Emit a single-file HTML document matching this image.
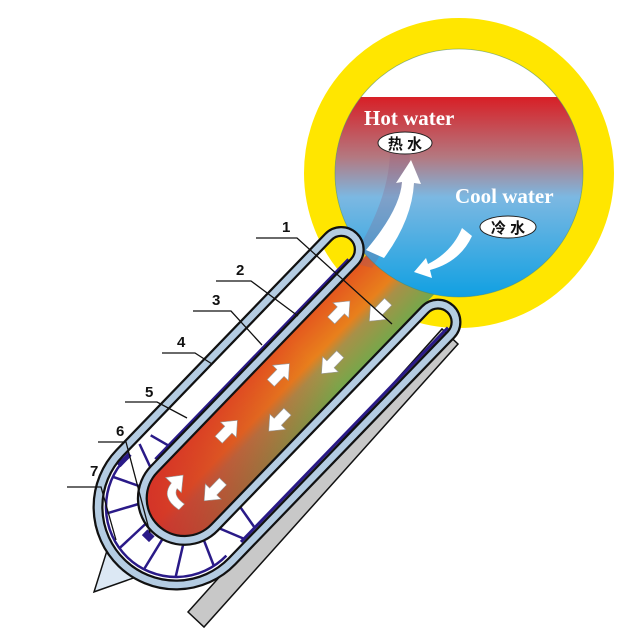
<!DOCTYPE html>
<html><head><meta charset="utf-8"><style>
html,body{margin:0;padding:0;background:#fff}
svg{display:block}
.n{font-family:"Liberation Sans",sans-serif;font-weight:bold;font-size:15px;fill:#111}
</style></head><body>
<svg width="640" height="640" viewBox="0 0 640 640" xmlns="http://www.w3.org/2000/svg">
<defs>
<linearGradient id="water" x1="0" y1="97" x2="0" y2="297" gradientUnits="userSpaceOnUse">
<stop offset="0" stop-color="#d81f26"/>
<stop offset="0.3" stop-color="#b47880"/>
<stop offset="0.5" stop-color="#7cb8e2"/>
<stop offset="1" stop-color="#10a0e2"/>
</linearGradient>
<linearGradient id="fill" x1="-38" y1="0" x2="38" y2="0" gradientUnits="userSpaceOnUse">
<stop offset="0" stop-color="#e4561f"/>
<stop offset="0.45" stop-color="#e8801c"/>
<stop offset="0.6" stop-color="#a89048"/>
<stop offset="1" stop-color="#74a84a"/>
</linearGradient>
<linearGradient id="red" x1="0" y1="40" x2="0" y2="-200" gradientUnits="userSpaceOnUse">
<stop offset="0" stop-color="#d0282a" stop-opacity="0.9"/>
<stop offset="1" stop-color="#d0282a" stop-opacity="0"/>
</linearGradient>
<clipPath id="wc"><rect x="300" y="97" width="340" height="300"/></clipPath>
</defs>

<polygon points="188,612 442,329 458,344 204,627" fill="#c8c8c8" stroke="#111" stroke-width="1.5"/>

<circle cx="459" cy="173" r="139.5" fill="#fff" stroke="#ffe600" stroke-width="31"/>

<g transform="translate(176,507) rotate(44)">
  <path d="M -38,-385 L 38,-385 L 38,-12 A 38 38 0 0 1 -38,-12 Z" fill="url(#fill)"/>
  <path d="M -38,-385 L 38,-385 L 38,-12 A 38 38 0 0 1 -38,-12 Z" fill="url(#red)"/>
</g>

<circle cx="459" cy="173" r="124" fill="url(#water)" clip-path="url(#wc)"/>
<circle cx="459" cy="173" r="124" fill="none" stroke="#4a8a6a" stroke-width="0.8" opacity="0.6"/>
<path d="M 350,262 Q 390,200 390,150 L 410,150 Q 410,210 372,268 Z" fill="#8a5a80" opacity="0.25"/>

<path d="M 366,250 Q 400,210 402,182 L 396,183 L 411,160 L 421,184 L 414,183 Q 412,220 384,258 Z" fill="#fff"/>
<path d="M 462,228 L 472,236 Q 460,262 430,270 L 432,278 L 414,272 L 426,258 L 428,264 Q 452,252 462,228 Z" fill="#fff"/>

<text x="364" y="125" font-family="'Liberation Serif',serif" font-weight="bold" font-size="21" fill="#fff">Hot water</text>
<text x="455" y="203" font-family="'Liberation Serif',serif" font-weight="bold" font-size="21" fill="#fff">Cool water</text>
<ellipse cx="405" cy="143" rx="27" ry="11" fill="#fff" stroke="#222" stroke-width="1"/>
<text x="405" y="149" text-anchor="middle" font-family="'Liberation Sans','Noto Sans CJK SC',sans-serif" font-size="15" font-weight="bold" fill="#111">热 水</text>
<ellipse cx="508" cy="227" rx="28" ry="11" fill="#fff" stroke="#222" stroke-width="1"/>
<text x="508" y="233" text-anchor="middle" font-family="'Liberation Sans','Noto Sans CJK SC',sans-serif" font-size="15" font-weight="bold" fill="#111">冷 水</text>

<g transform="translate(176,507) rotate(44)">
  <g stroke="#2a1a88" stroke-width="2.5" fill="none">
    <path d="M -70,0 A 70 70 0 0 0 70,0"/>
    <path d="M -70,-6 L -70,10" stroke-width="5"/>
    <line x1="-44" y1="-10" x2="-70" y2="-20"/>
    <line x1="-40" y1="10" x2="-66" y2="22"/>
    <line x1="-28" y1="22" x2="-45" y2="52"/>
    <line x1="-10" y1="30" x2="-12" y2="68"/>
    <line x1="12" y1="30" x2="20" y2="66"/>
    <line x1="30" y1="20" x2="48" y2="50"/>
    <line x1="42" y1="4" x2="68" y2="16"/>
    <line x1="44" y1="-14" x2="70" y2="-24"/>
    <line x1="-44" y1="-40" x2="-68" y2="-34"/>
    <line x1="44" y1="-45" x2="70" y2="-40"/>
  </g>
  <rect x="-5" y="36" width="10" height="8" fill="#2a1a88"/>
  <line x1="-48" y1="-298" x2="-48" y2="-20" stroke="#2a1a88" stroke-width="3"/>
  <line x1="71" y1="-318" x2="71" y2="-20" stroke="#2a1a88" stroke-width="3"/>
  <path d="M -22,74 L 0,118 L 22,74 Z" fill="#dce8f4" stroke="#111" stroke-width="1.5"/>
  <path d="M -78,0 L -78,-300 A 18 18 0 0 1 -42,-300 L -42,-12 A 42 42 0 0 0 42,-12 L 42,-315 A 18 18 0 0 1 78,-315 L 78,0 A 78 78 0 0 1 -78,0 Z" fill="none" stroke="#111" stroke-width="11"/>
  <path d="M -78,0 L -78,-300 A 18 18 0 0 1 -42,-300 L -42,-12 A 42 42 0 0 0 42,-12 L 42,-315 A 18 18 0 0 1 78,-315 L 78,0 A 78 78 0 0 1 -78,0 Z" fill="none" stroke="#b4cce2" stroke-width="6.5"/>
  <g fill="#fff" stroke="#999" stroke-width="0.6">
    <path d="M -23,-242 L -23,-256 L -29,-256 L -18,-269 L -7,-256 L -13,-256 L -13,-242 Z"/>
    <path d="M -23,-155 L -23,-169 L -29,-169 L -18,-182 L -7,-169 L -13,-169 L -13,-155 Z"/>
    <path d="M -21,-78 L -21,-92 L -27,-92 L -16,-105 L -5,-92 L -11,-92 L -11,-78 Z"/>
    <path d="M 5,-295 L 5,-281 L -1,-281 L 10,-268 L 21,-281 L 15,-281 L 15,-295 Z"/>
    <path d="M 7,-224 L 7,-210 L 1,-210 L 12,-197 L 23,-210 L 17,-210 L 17,-224 Z"/>
    <path d="M 9,-146 L 9,-132 L 3,-132 L 14,-119 L 25,-132 L 19,-132 L 19,-146 Z"/>
    <path d="M 11,-51 L 11,-37 L 5,-37 L 16,-24 L 27,-37 L 21,-37 L 21,-51 Z"/>
    <path d="M 4,0 Q -18,4 -20,-14 L -28,-14 L -17,-28 L -6,-14 L -12,-14 Q -10,-6 4,-8 Z"/>
  </g>
</g>

<g stroke="#111" stroke-width="1.3" fill="none">
  <polyline points="256,238 297,238 392,324"/>
  <polyline points="216,281 251,281 298,316"/>
  <polyline points="193,311 231,311 262,345"/>
  <polyline points="162,353 195,353 212,364"/>
  <polyline points="125,402 157,402 187,418"/>
  <polyline points="98,442 126,442 150,533"/>
  <polyline points="67,487 101,487 116,540"/>
</g>
<text class="n" x="282" y="232">1</text>
<text class="n" x="236" y="275">2</text>
<text class="n" x="212" y="305">3</text>
<text class="n" x="177" y="347">4</text>
<text class="n" x="145" y="397">5</text>
<text class="n" x="116" y="436">6</text>
<text class="n" x="90" y="476">7</text>
</svg>
</body></html>
